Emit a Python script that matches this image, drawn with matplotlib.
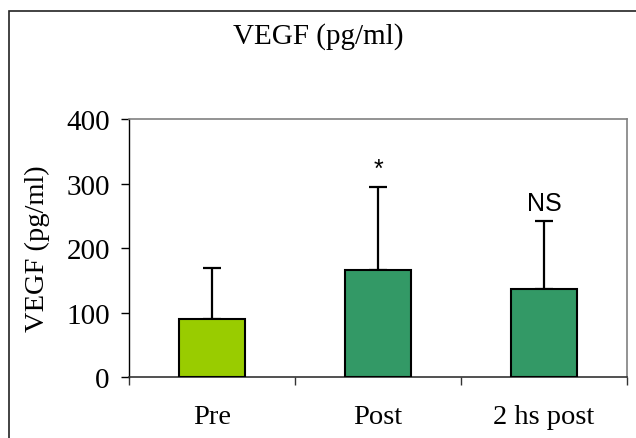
import matplotlib
matplotlib.use("Agg")
import matplotlib.pyplot as plt
from matplotlib.patches import Rectangle

categories = ["Pre", "Post", "2 hs post"]
means = [90, 166, 136]
errors = [79, 128, 106]
bar_colors = ["#99CC00", "#339966", "#339966"]
annotations = ["", "*", "NS"]
yticks = [0, 100, 200, 300, 400]

W, H = 636, 439
fig = plt.figure(figsize=(W / 100, H / 100), dpi=100)
serif = ["Liberation Serif", "DejaVu Serif"]
sans = ["Liberation Sans", "DejaVu Sans"]

# outer frame
fig.patches.append(Rectangle((8.5 / W, -0.1), 1.2, (1 - 11.5 / H) + 0.1,
                             transform=fig.transFigure, fill=False,
                             edgecolor="#222222", linewidth=1.2))

ax = fig.add_axes([129.3 / W, 1 - 378.3 / H, (627 - 129.3) / W, (378.3 - 120) / H])
x = list(range(len(categories)))
ax.bar(x, means, width=0.4, color=bar_colors, edgecolor="black", linewidth=1.5, zorder=3)
ax.errorbar(x, means, yerr=[[0] * len(means), errors], fmt="none", ecolor="black",
            elinewidth=1.6, capsize=6.8, capthick=1.6, zorder=2)

for xi, m, e, a in zip(x, means, errors, annotations):
    if a:
        ax.text(xi, m + e + 10, a, ha="center", va="bottom",
                fontsize=18, family=sans)

ax.set_xlim(-0.5, 2.5)
ax.set_ylim(0, 400)
ax.set_yticks(yticks)
ax.set_yticklabels([str(v) for v in yticks], fontsize=21, family=serif)
ax.tick_params(axis="y", direction="out", length=5.5, width=1, pad=8.5, color="black")

ax.set_xticks([-0.5, 0.5, 1.5, 2.5])
ax.set_xticklabels([])
ax.tick_params(axis="x", which="major", direction="out", length=5.5, width=1, color="#333333")
ax.set_xticks(x, minor=True)
ax.set_xticklabels(categories, minor=True, fontsize=20.5, family=serif)
ax.tick_params(axis="x", which="minor", length=0, pad=19)

for side in ["top", "right"]:
    ax.spines[side].set_color("#808080")
    ax.spines[side].set_linewidth(1.2)
ax.spines["left"].set_color("black")
ax.spines["bottom"].set_color("#333333")
ax.spines["left"].set_linewidth(1)
ax.spines["bottom"].set_linewidth(1.2)

fig.text(0.5, 1 - 37 / H, "VEGF (pg/ml)", ha="center", va="center", fontsize=21, family=serif)
fig.text(37 / W, 1 - 249 / H, "VEGF (pg/ml)", ha="center", va="center", rotation=90,
         fontsize=20.5, family=serif)

fig.savefig("out.png", dpi=100)
